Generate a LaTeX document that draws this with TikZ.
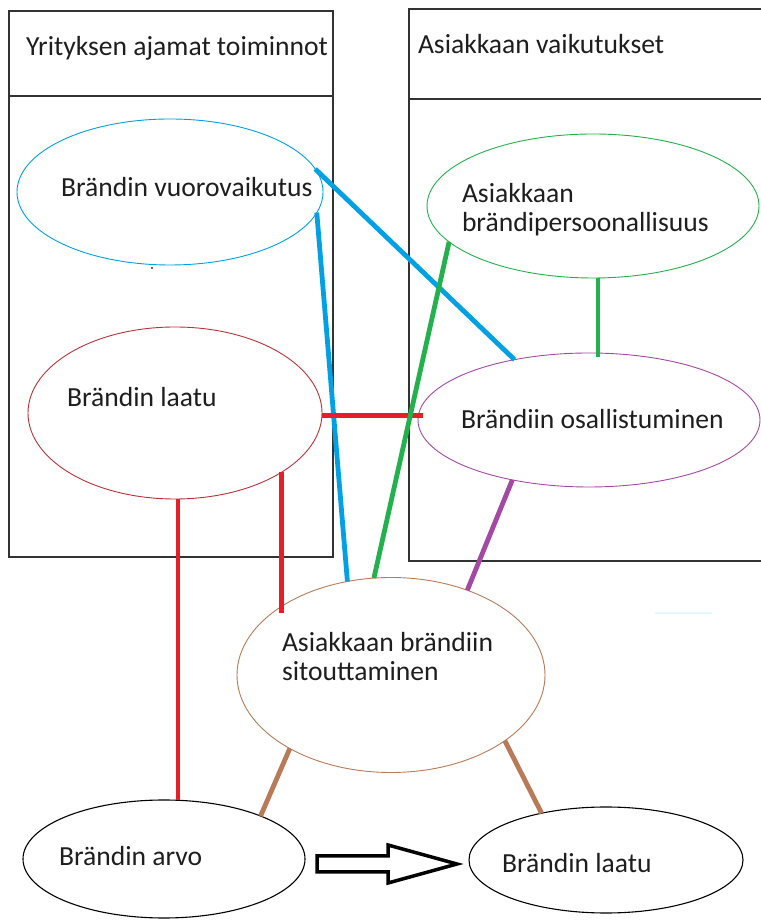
\documentclass[tikz,border=0pt]{standalone}
\usepackage{fontspec}
\setmainfont{Carlito}
\usetikzlibrary{shapes.geometric,calc}

% Paint-style palette
\definecolor{pblue}{RGB}{0,160,228}
\definecolor{pgreen}{RGB}{34,177,76}
\definecolor{pred}{RGB}{230,30,40}
\definecolor{pdarkred}{RGB}{185,50,55}
\definecolor{ppurple}{RGB}{163,73,164}
\definecolor{pbrown}{RGB}{185,122,87}
\definecolor{inktext}{RGB}{30,30,30}

\tikzset{
  bubble/.style={ellipse, draw, line width=0.9pt, inner sep=0pt, outer sep=0pt},
  caption/.style={anchor=base west, inner sep=0pt, outer sep=0pt,
                  font=\fontsize{27.6}{29.5}\selectfont, text=inktext, align=left},
  link/.style={line width=4.8pt},
  frame/.style={draw=black!80, line width=1.4pt},
  blockarrow/.style={draw=black, line width=3.5pt, line join=miter, fill=white}
}

\begin{document}
\begin{tikzpicture}[x=1pt, y=1pt]
  \useasboundingbox (0,0) rectangle (760,920);

  % Column frames with their header rows
  \draw[frame] (9,363) rectangle (333,909);
  \draw[frame] (9,824) -- (333,824);
  \draw[frame] (409,359) rectangle (770,911);
  \draw[frame] (409,821) -- (770,821);
  \node[caption] (hleft) at (26,864) {Yrityksen ajamat toiminnot};
  \node[caption] (hright) at (418,866) {Asiakkaan vaikutukset};

  % Concept bubbles
  \node[bubble, draw=pblue, minimum width=306pt, minimum height=146pt] (vuoro) at (170,728) {};
  \node[bubble, draw=pgreen, minimum width=332pt, minimum height=144pt] (persona) at (593,714) {};
  \node[bubble, draw=pdarkred, minimum width=294pt, minimum height=172pt] (laatu) at (175,507) {};
  \node[bubble, draw=ppurple, minimum width=342pt, minimum height=134pt] (osall) at (589,500) {};
  \node[bubble, draw=pbrown, minimum width=308pt, minimum height=195pt] (sitout) at (391,245) {};
  \node[bubble, draw=black, line width=1.1pt, minimum width=282pt, minimum height=118pt] (arvo) at (164,61) {};
  \node[bubble, draw=black, line width=1.1pt, minimum width=274pt, minimum height=106pt] (laatu2) at (606,60) {};

  % Bubble texts (two-line captions sit on their last baseline)
  \node[caption] (tvuoro) at (61,723) {Brändin vuorovaikutus};
  \node[caption] (tpersona) at (462,688) {Asiakkaan\\brändipersoonallisuus};
  \node[caption] (tlaatu) at (67,513) {Brändin laatu};
  \node[caption] (tosall) at (461,491) {Brändiin osallistuminen};
  \node[caption] (tsitout) at (282,239) {Asiakkaan brändiin\\sitouttaminen};
  \node[caption] (tarvo) at (59,54) {Brändin arvo};
  \node[caption] (tlaatu2) at (502,47) {Brändin laatu};

  % Stray dot and faint stroke
  \fill[black!80] (152,652) circle (1.2pt);
  \draw[cyan!10, line width=2pt] (655,307) -- (712,307);

  % Connectors
  \draw[link, pblue] (vuoro.9) -- (osall.141.4);
  \draw[link, pblue] (vuoro.-8) -- (sitout.115.5);
  \draw[link, pred] (laatu.-1) -- ([xshift=5pt]laatu.-1 -| osall.west);
  \draw[link, pgreen] (persona.194.5) -- (sitout.100.1);
  \draw[link, pgreen] (persona.-86) -- ([yshift=-4pt]persona.-86 |- osall.north);
  \draw[link, ppurple] (osall.218.1) -- (sitout.48.2);
  \draw[link, pred] (laatu.-88) -- (laatu.-88 |- arvo.north);
  \draw[link, pred] (laatu.-29.5) -- ([yshift=-6pt]laatu.-29.5 |- sitout.148.3);
  \draw[link, pbrown] (sitout.216.8) -- (arvo.24.4);
  \draw[link, pbrown] (sitout.-30.1) -- (laatu2.144.5);

  % Hollow block arrow from value to quality
  \coordinate (flowtail) at (317,56);
  \draw[blockarrow] (flowtail) ++(0,8) -- ++(71,0) -- ++(0,11) -- ++(69,-19)
        -- ++(-69,-19) -- ++(0,11) -- ++(-71,0) -- cycle;
\end{tikzpicture}
\end{document}
